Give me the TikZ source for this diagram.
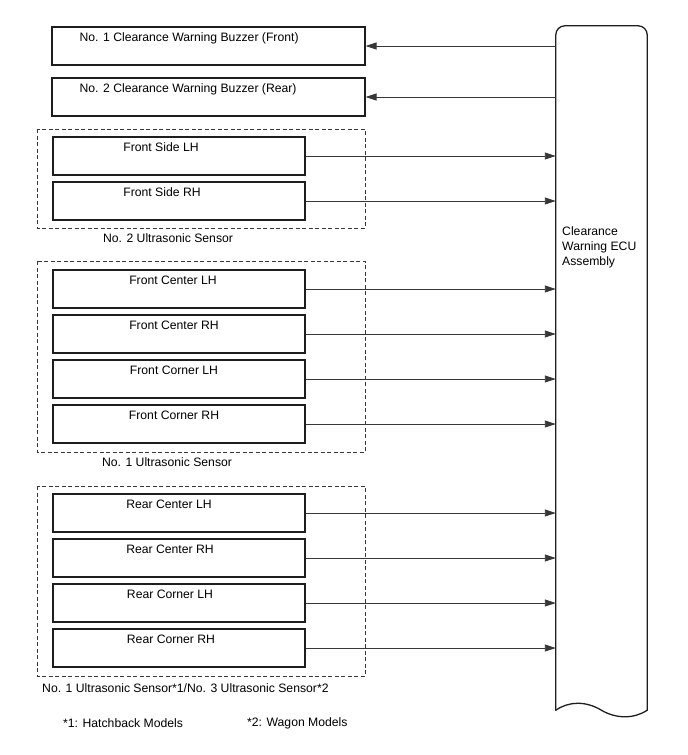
\documentclass[tikz,border=0pt]{standalone}
\usepackage{fontspec}
\setmainfont{Liberation Sans}
\usetikzlibrary{arrows.meta}
\definecolor{ink}{RGB}{30,30,30}
\definecolor{wire}{RGB}{55,55,55}

\begin{document}
\begin{tikzpicture}[x=1pt,y=-1pt,font=\fontsize{12.2}{15}\selectfont,
  unit/.style={draw=ink,line width=1.2pt,minimum width=252pt,minimum height=38pt,inner sep=0pt},
  buzzer/.style={unit,minimum width=313pt},
  grp/.style={draw=wire,dash pattern=on 4pt off 2.5pt,line width=0.8pt},
  sig/.style={draw=wire,line width=0.9pt,-{Triangle[length=11pt,width=7pt]}},
  boxcap/.style={anchor=north,inner sep=0pt,yshift=-6pt},
  eculine/.style={draw=ink,line width=1.3pt,line cap=round}]
  \useasboundingbox (0,0) rectangle (688,755);
  % ECU column
  \node[minimum width=91pt,minimum height=684pt,inner sep=0pt] (ecu) at (601.5,368) {};
  \draw[eculine,rounded corners=9pt] (ecu.south west) -- (ecu.north west) -- (ecu.north east) -- (ecu.south east);
  \draw[eculine] (ecu.south east) .. controls (634,719) and (616,719) .. (601,710)
    .. controls (586,701) and (569,701) .. (ecu.south west);
  \node[anchor=north west,align=left,inner sep=0pt] (ecutxt) at (562,226) {Clearance\\Warning ECU\\Assembly};
  % buzzers
  \foreach \n/\y/\t in {1/46/{No. 1 Clearance Warning Buzzer (Front)},2/97/{No. 2 Clearance Warning Buzzer (Rear)}}{
    \node[buzzer,label={[boxcap,anchor=north west,xshift=28pt]north west:\t}] (bz\n) at (208.5,\y) {};
    \draw[sig] (ecu.west |- bz\n.east) -- (bz\n.east);
  }
  % sensor groups
  \foreach \top/\bot in {129/228,261/452,486/676} \draw[grp] (37,\top) rectangle (365,\bot);
  \foreach \n/\y/\dx/\t in {fs1/156/-18/Front Side LH,fs2/201/-17/Front Side RH,
      fc1/289/-6/Front Center LH,fc2/334/-5/Front Center RH,fk1/379/-5/Front Corner LH,fk2/424/-5/Front Corner RH,
      rc1/513/-10/Rear Center LH,rc2/558/-9/Rear Center RH,rk1/603/-9/Rear Corner LH,rk2/648/-8/Rear Corner RH}{
    \node[unit,label={[boxcap,xshift=\dx pt]north:\t}] (\n) at (179,\y) {};
    \draw[sig] (\n.east) -- (\n.east -| ecu.west);
  }
  \node (g1) at (168,238) {No. 2 Ultrasonic Sensor};
  \node (g2) at (167,462) {No. 1 Ultrasonic Sensor};
  \node[anchor=west,inner sep=0pt] (g3) at (42,688) {No. 1 Ultrasonic Sensor*1/No. 3 Ultrasonic Sensor*2};
  % notes
  \node[anchor=west,inner sep=0pt] (fn1) at (63,723) {*1: Hatchback Models};
  \node[anchor=west,inner sep=0pt] (fn2) at (247,723) {*2: Wagon Models};
\end{tikzpicture}
\end{document}
